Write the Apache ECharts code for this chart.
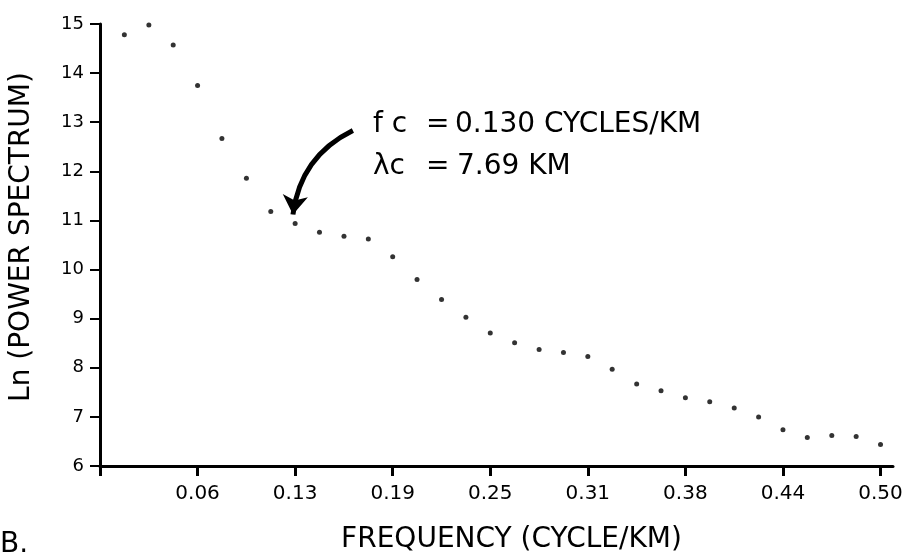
<!DOCTYPE html>
<html>
<head>
<meta charset="utf-8">
<script src="https://cdn.jsdelivr.net/npm/echarts@6/dist/echarts.min.js"></script>
<style>
  html, body { margin: 0; padding: 0; background: #fff; }
  #chart { width: 907px; height: 559px; }
</style>
</head>
<body>
<div id="chart"></div>
<script>
// frequency (cycle/km) of each spectral estimate
var freq = [0.0156, 0.0313, 0.0469, 0.0625, 0.0781, 0.0938, 0.1094, 0.1250,
            0.1406, 0.1563, 0.1719, 0.1875, 0.2031, 0.2188, 0.2344, 0.2500,
            0.2656, 0.2813, 0.2969, 0.3125, 0.3281, 0.3438, 0.3594, 0.3750,
            0.3906, 0.4063, 0.4219, 0.4375, 0.4531, 0.4688, 0.4844, 0.5000];
// ln(power spectrum)
var lnPower = [14.78, 14.98, 14.57, 13.75, 12.67, 11.86, 11.18, 10.94,
               10.76, 10.68, 10.62, 10.26, 9.80, 9.39, 9.03, 8.71,
               8.51, 8.37, 8.31, 8.23, 7.97, 7.67, 7.53, 7.39,
               7.31, 7.18, 7.00, 6.74, 6.58, 6.62, 6.60, 6.44];
// x ticks and their printed labels
var xTickValues = [0, 0.0625, 0.125, 0.1875, 0.25, 0.3125, 0.375, 0.4375, 0.5];
var xTickLabels = ['', '0.06', '0.13', '0.19', '0.25', '0.31', '0.38', '0.44', '0.50'];
// arrow pointing at the cutoff frequency (data coords)
var arrowFrom = [0.162, 12.83];
var arrowTo = [0.1236, 11.12];

var points = [];
for (var i = 0; i < freq.length; i++) points.push([freq[i], lnPower[i]]);

var font = 'DejaVu Sans';
var chart = echarts.init(document.getElementById('chart'));

var option = {
  animation: false,
  backgroundColor: '#fff',
  grid: { left: 100, right: 14, top: 24, bottom: 87, containLabel: false },
  title: {
    text: 'B.', left: 0, top: 531, padding: 0,
    textStyle: { fontFamily: font, fontSize: 28, fontWeight: 'normal', color: '#000' }
  },
  xAxis: {
    type: 'value', min: 0, max: 0.508,
    name: 'FREQUENCY (CYCLE/KM)', nameLocation: 'middle', nameGap: 60,
    nameTextStyle: { fontFamily: font, fontSize: 28, color: '#000', padding: [0, 0, 0, 30] },
    splitLine: { show: false },
    axisLine: { lineStyle: { color: '#000', width: 3 } },
    axisTick: { length: 10, lineStyle: { color: '#000', width: 3 }, customValues: xTickValues },
    axisLabel: {
      customValues: xTickValues, margin: 18,
      fontFamily: font, fontSize: 20, color: '#000',
      formatter: function (v) {
        for (var k = 0; k < xTickValues.length; k++)
          if (Math.abs(xTickValues[k] - v) < 1e-6) return xTickLabels[k];
        return '';
      }
    }
  },
  yAxis: {
    type: 'value', min: 6, max: 15, interval: 1,
    splitLine: { show: false },
    axisLine: { lineStyle: { color: '#000', width: 3 } },
    axisTick: { length: 10, lineStyle: { color: '#000', width: 2 } },
    axisLabel: { margin: 16, fontFamily: font, fontSize: 18, color: '#000' }
  },
  series: [{
    type: 'scatter',
    data: points,
    symbol: 'circle',
    symbolSize: 5,
    itemStyle: { color: '#000' },
    silent: true
  }, {
    // curved arrow to the cutoff point
    type: 'lines',
    coordinateSystem: 'cartesian2d',
    silent: true,
    symbol: ['none', 'arrow'],
    symbolSize: 19,
    lineStyle: { color: '#000', width: 5, opacity: 1, curveness: -0.27 },
    data: [{ coords: [arrowFrom, arrowTo] }]
  }],
  graphic: [
    { type: 'text', x: 22, y: 237, rotation: Math.PI / 2,
      style: { text: 'Ln (POWER SPECTRUM)', font: '28px ' + font, fill: '#000', align: 'center', verticalAlign: 'middle' } },
    { type: 'text', left: 373, top: 111, style: { text: 'f c', font: '28px ' + font, fill: '#000' } },
    { type: 'text', left: 426, top: 111, style: { text: '=', font: '28px ' + font, fill: '#000' } },
    { type: 'text', left: 455, top: 111, style: { text: '0.130 CYCLES/KM', font: '28px ' + font, fill: '#000' } },
    { type: 'text', left: 373, top: 153, style: { text: 'λc', font: '28px ' + font, fill: '#000' } },
    { type: 'text', left: 426, top: 153, style: { text: '=', font: '28px ' + font, fill: '#000' } },
    { type: 'text', left: 457, top: 153, style: { text: '7.69 KM', font: '28px ' + font, fill: '#000' } }
  ]
};

chart.setOption(option);
</script>
</body>
</html>
